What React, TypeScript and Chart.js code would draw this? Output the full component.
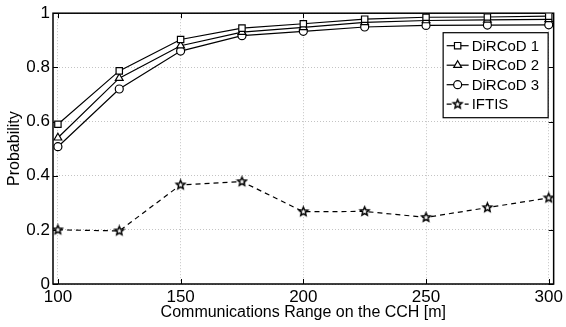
import { useEffect, useRef } from 'react';
import { Chart, registerables } from 'chart.js';
import { drawPoint } from 'chart.js/helpers';

Chart.register(...registerables);

const ranges = [100, 125, 150, 175, 200, 225, 250, 275, 300];
const dircod1 = [0.59, 0.787, 0.903, 0.945, 0.961, 0.978, 0.985, 0.986, 0.989];
const dircod2 = [0.54, 0.76, 0.88, 0.93, 0.948, 0.966, 0.973, 0.975, 0.977];
const dircod3 = [0.507, 0.72, 0.86, 0.917, 0.933, 0.949, 0.955, 0.956, 0.957];
const iftis = [0.2, 0.196, 0.366, 0.378, 0.267, 0.268, 0.246, 0.282, 0.318];
const seriesNames = ['DiRCoD 1', 'DiRCoD 2', 'DiRCoD 3', 'IFTIS'];
const xTicks = [100, 150, 200, 250, 300];
const yTicks = [0, 0.2, 0.4, 0.6, 0.8, 1];
const xTitle = 'Communications Range on the CCH [m]';
const yTitle = 'Probability';

const FONT = "'Liberation Sans', Arial, Helvetica, sans-serif";

function makeStar(r: number): HTMLCanvasElement {
  const c = document.createElement('canvas');
  const s = Math.ceil(r * 2 + 4);
  c.width = s;
  c.height = s;
  const ctx = c.getContext('2d')!;
  ctx.beginPath();
  for (let i = 0; i < 10; i++) {
    const rad = i % 2 === 0 ? r : r * 0.45;
    const a = -Math.PI / 2 + (i * Math.PI) / 5;
    ctx.lineTo(s / 2 + rad * Math.cos(a), s / 2 + rad * Math.sin(a));
  }
  ctx.closePath();
  ctx.fillStyle = '#fff';
  ctx.fill();
  ctx.lineWidth = 1.5;
  ctx.strokeStyle = '#000';
  ctx.stroke();
  return c;
}

const framePlugin = {
  id: 'frame',
  beforeDatasetsDraw(chart: any) {
    const { ctx, chartArea: a, scales } = chart;
    ctx.save();
    ctx.strokeStyle = '#000';
    ctx.lineWidth = 1;
    ctx.beginPath();
    const tl = 5;
    xTicks.forEach((v) => {
      const px = Math.round(scales.x.getPixelForValue(v)) + 0.5;
      ctx.moveTo(px, a.bottom);
      ctx.lineTo(px, a.bottom - tl);
      ctx.moveTo(px, a.top);
      ctx.lineTo(px, a.top + tl);
    });
    yTicks.forEach((v) => {
      const py = Math.round(scales.y.getPixelForValue(v)) + 0.5;
      ctx.moveTo(a.left, py);
      ctx.lineTo(a.left + tl, py);
      ctx.moveTo(a.right, py);
      ctx.lineTo(a.right - tl, py);
    });
    ctx.stroke();
    ctx.lineWidth = 1.5;
    ctx.strokeRect(a.left, a.top, a.right - a.left, a.bottom - a.top);
    ctx.restore();
  },
};

const legendPlugin = {
  id: 'boxLegend',
  afterDraw(chart: any) {
    const { ctx, chartArea: a } = chart;
    const right = a.right - 6;
    const top = a.top + 19;
    const w = 105;
    const h = 85;
    const left = right - w;
    ctx.save();
    ctx.fillStyle = '#fff';
    ctx.fillRect(left, top, w, h);
    ctx.strokeStyle = '#000';
    ctx.lineWidth = 1.2;
    ctx.strokeRect(left + 0.5, top + 0.5, w, h);
    ctx.font = `15px ${FONT}`;
    ctx.textBaseline = 'middle';
    ctx.textAlign = 'left';
    chart.data.datasets.forEach((ds: any, i: number) => {
      const y = top + 13.5 + i * 19.5;
      ctx.save();
      ctx.strokeStyle = '#000';
      ctx.lineWidth = 1.2;
      ctx.setLineDash(ds.borderDash || []);
      ctx.beginPath();
      ctx.moveTo(left + 4, y);
      ctx.lineTo(left + 26, y);
      ctx.stroke();
      ctx.restore();
      ctx.save();
      ctx.strokeStyle = '#000';
      ctx.fillStyle = '#fff';
      ctx.lineWidth = 1.2;
      drawPoint(ctx, { pointStyle: ds.pointStyle, radius: ds.pointRadius, rotation: 0, borderWidth: 1.2 }, left + 15, y);
      ctx.restore();
      ctx.fillStyle = '#000';
      ctx.fillText(ds.label, left + 29, y + 1);
    });
    ctx.restore();
  },
};

export default function App() {
  const ref = useRef<HTMLCanvasElement | null>(null);
  useEffect(() => {
    if (!ref.current) return;
    Chart.defaults.font.family = FONT;
    const star = makeStar(4.5);
    const common = {
      borderColor: '#000',
      borderWidth: 1.2,
      pointBackgroundColor: '#fff',
      pointBorderColor: '#000',
      pointBorderWidth: 1.2,
      tension: 0,
      fill: false,
    };
    const chart = new Chart(ref.current, {
      type: 'line',
      data: {
        datasets: [
          { ...common, label: seriesNames[0], data: ranges.map((x, i) => ({ x, y: dircod1[i] })), pointStyle: 'rect', pointRadius: 4.5 },
          { ...common, label: seriesNames[1], data: ranges.map((x, i) => ({ x, y: dircod2[i] })), pointStyle: 'triangle', pointRadius: 4.5 },
          { ...common, label: seriesNames[2], data: ranges.map((x, i) => ({ x, y: dircod3[i] })), pointStyle: 'circle', pointRadius: 4 },
          { ...common, label: seriesNames[3], data: ranges.map((x, i) => ({ x, y: iftis[i] })), pointStyle: star as any, pointRadius: 4.5, borderDash: [5, 4] },
        ],
      },
      options: {
        responsive: false,
        animation: false,
        layout: { padding: { top: 11, right: 8, left: 0, bottom: 0 } },
        plugins: { legend: { display: false }, tooltip: { enabled: false } },
        scales: {
          x: {
            type: 'linear',
            min: 98,
            max: 302,
            afterBuildTicks: (s: any) => {
              s.ticks = xTicks.map((v) => ({ value: v }));
            },
            afterFit: (s: any) => {
              s.height = 43;
            },
            grid: { color: '#c4c4c4', lineWidth: 1, drawTicks: false },
            border: { display: false, dash: [1, 2] },
            ticks: { font: { size: 17 }, color: '#000', padding: 3, maxRotation: 0, autoSkip: false },
            title: { display: true, text: xTitle, font: { size: 16 }, color: '#000', padding: { top: 0, bottom: 5 } },
          },
          y: {
            type: 'linear',
            min: 0,
            max: 1,
            afterBuildTicks: (s: any) => {
              s.ticks = yTicks.map((v) => ({ value: v }));
            },
            afterFit: (s: any) => {
              s.width = 53;
            },
            grid: { color: '#c4c4c4', lineWidth: 1, drawTicks: false },
            border: { display: false, dash: [1, 2] },
            ticks: {
              font: { size: 17 },
              color: '#000',
              padding: 3,
              autoSkip: false,
              callback: (v: any) => (v === 0 ? '0' : v === 1 ? '1' : Number(v).toFixed(1)),
            },
            title: { display: true, text: yTitle, font: { size: 16 }, color: '#000', padding: { top: 5, bottom: 0 } },
          },
        },
      },
      plugins: [framePlugin, legendPlugin],
    });
    return () => chart.destroy();
  }, []);
  return (
    <div style={{ position: 'absolute', left: 0, top: 0, width: 566, height: 327, background: '#fff' }}>
      <canvas ref={ref} width={566} height={327} />
    </div>
  );
}
